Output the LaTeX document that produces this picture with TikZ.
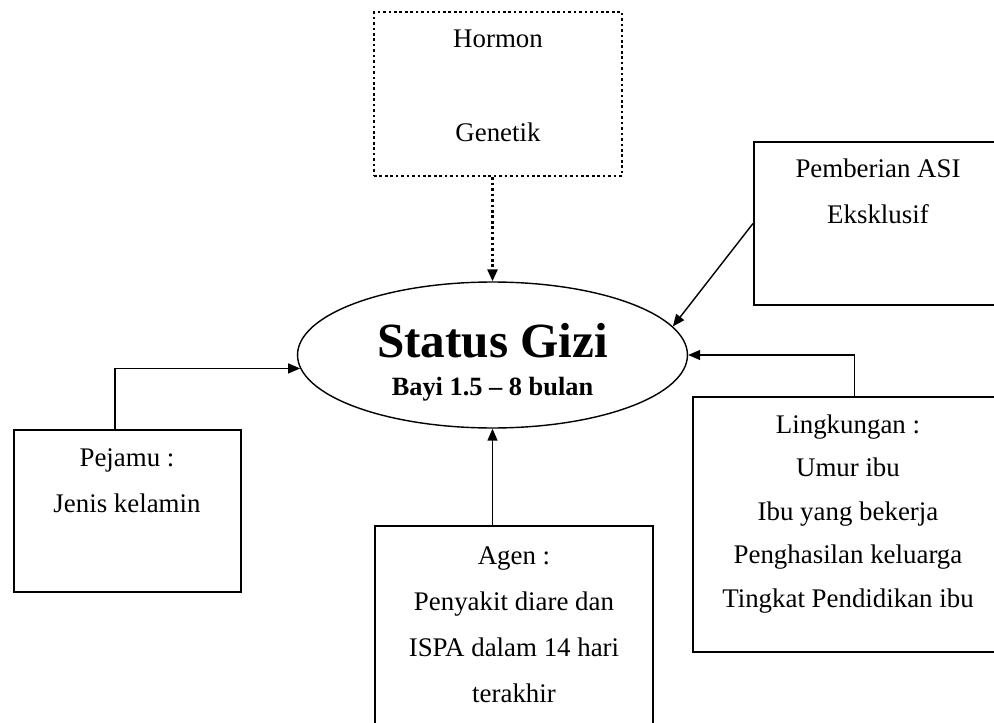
\documentclass[tikz,border=0pt]{standalone}
\usepackage{fontspec}
\setmainfont{Liberation Serif}
\usetikzlibrary{shapes.geometric}
\usetikzlibrary{arrows.meta}

\begin{document}
\begin{tikzpicture}[
            x=0.02cm, y=-0.02cm,
            factorbox/.style={draw=black, line width=0.8pt, inner sep=0pt},
            hiddenbox/.style={factorbox, line width=1.5pt, dash pattern=on 1.5pt off 1.6pt},
            factortext/.style={align=center, anchor=north, inner sep=0pt, font=\fontsize{15.3}{26.2}\selectfont},
            link/.style={line width=0.8pt, -{Triangle[length=2.4mm, width=2mm]}}
        ]
            \useasboundingbox (0,0) rectangle (994,723);

            % status gizi (centre)
            \node[ellipse, draw, line width=0.8pt, minimum width=7.8cm, minimum height=2.92cm, inner sep=0pt] (gizi) at (492.5,355) {};
            \node[align=center, anchor=north, inner sep=0pt, font=\fontsize{15}{21.6}\selectfont\bfseries] (giziTxt) at (492.5,323) {{\fontsize{28}{28}\selectfont Status Gizi}\\Bayi 1.5 -- 8 bulan};

            % factor boxes (the right ones run off the page)
            \node[hiddenbox, minimum width=4.96cm, minimum height=3.28cm] (hormon) at (498,94) {};
            \node[factorbox, line width=1.2pt, minimum width=7.92cm, minimum height=3.26cm] (asi) at (952,223.5) {};
            \node[factorbox, minimum width=4.54cm, minimum height=3.24cm] (pejamu) at (127.5,511) {};
            \node[factorbox, minimum width=5.56cm, minimum height=4.68cm] (agen) at (514,643) {};
            \node[factorbox, minimum width=8.76cm, minimum height=5.1cm] (lingkungan) at (912,524.5) {};

            % box texts
            \node[factortext] (hormonTxt) at (498,30) {Hormon\\[27.3pt]Genetik};
            \node[factortext] (asiTxt) at (878,158) {Pemberian ASI\\Eksklusif};
            \node[factortext] (pejamuTxt) at (127,448) {Pejamu :\\Jenis kelamin};
            \node[factortext] (agenTxt) at (514,546) {Agen :\\Penyakit diare dan\\ISPA dalam 14 hari\\terakhir};
            \node[factortext, font=\fontsize{15.3}{24.8}\selectfont] (lingkunganTxt) at (848,414) {Lingkungan :\\Umur ibu\\Ibu yang bekerja\\Penghasilan keluarga\\Tingkat Pendidikan ibu};

            % arrows into status gizi
            \draw[link, line width=1.5pt, dash pattern=on 1.5pt off 1.6pt] (hormon.south -| gizi.north) -- (gizi.north);
            \draw[link] (asi.west) -- (gizi.9);
            \draw[link] (lingkungan.north west) ++(162,0) coordinate (lingkunganOut) |- (gizi.east);
            \draw[link] ([xshift=-0.25cm]pejamu.north) |- (gizi.184);
            \draw[link] (agen.north -| gizi.south) -- (gizi.south);

        \end{tikzpicture}
\end{document}
